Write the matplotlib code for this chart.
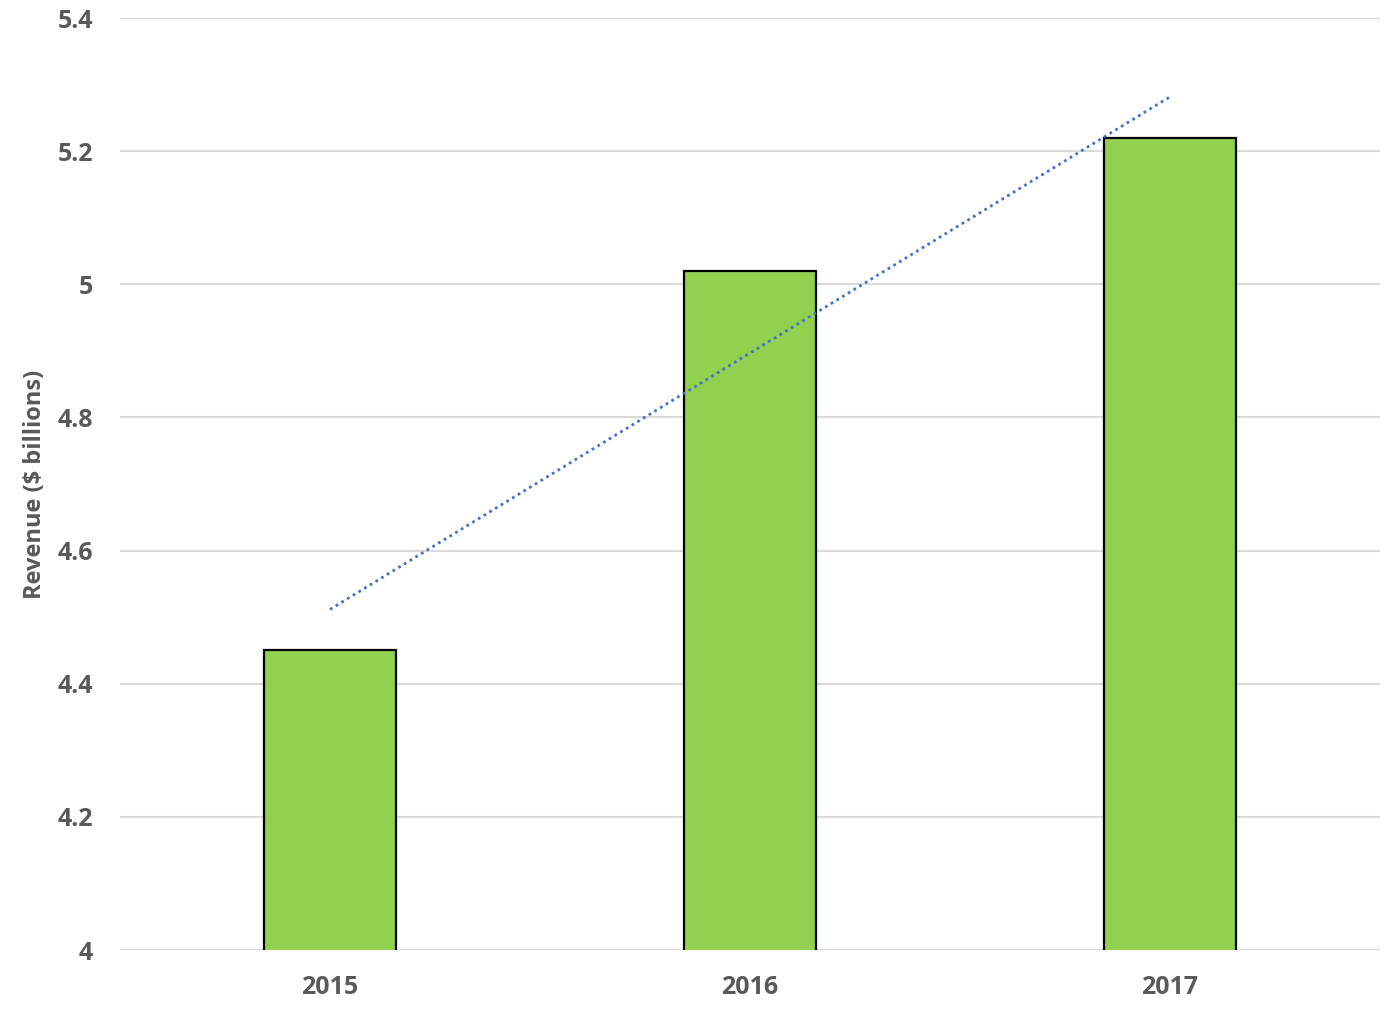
import matplotlib
matplotlib.use("Agg")
import matplotlib.pyplot as plt
import numpy as np

years = ["2015", "2016", "2017"]
revenue = [4.45, 5.02, 5.22]
yticks = [4, 4.2, 4.4, 4.6, 4.8, 5, 5.2, 5.4]
ytick_labels = ["4", "4.2", "4.4", "4.6", "4.8", "5", "5.2", "5.4"]

plt.rcParams['font.family'] = ['Open Sans', 'DejaVu Sans']

W, H = 1396, 1014
fig = plt.figure(figsize=(W / 100, H / 100), dpi=100)
ax = fig.add_axes([120 / W, (H - 950) / H, (1380 - 120) / W, (950 - 18) / H])

x = np.arange(len(years))
ax.bar(x, revenue, width=0.314, color="#92d050", edgecolor="black", linewidth=1.6, zorder=3)

coef = np.polyfit(x, revenue, 1)
trend = np.polyval(coef, x)
ax.plot([x[0], x[-1]], [trend[0], trend[-1]], linestyle=(0, (1, 1.4)), color="#4472c4",
        linewidth=2, zorder=4)

ax.set_xlim(-0.5, len(years) - 0.5)
ax.set_ylim(4, 5.4)
ax.set_yticks(yticks)
ax.set_yticklabels(ytick_labels)
ax.set_xticks(x)
ax.set_xticklabels(years)
ax.grid(axis="y", color="#d9d9d9", linewidth=1.5, zorder=0)
ax.set_axisbelow(True)
for s in ax.spines.values():
    s.set_visible(False)
ax.tick_params(axis="both", length=0, labelsize=18, labelcolor="#595959")
ax.tick_params(axis="y", pad=19.5)
ax.tick_params(axis="x", pad=18)
for lbl in ax.get_xticklabels() + ax.get_yticklabels():
    lbl.set_fontweight("bold")

fig.text(35 / W, 1 - 484 / H, "Revenue ($ billions)", rotation=90, ha="center", va="center",
         fontsize=17, fontweight="bold", color="#595959")

fig.savefig("out.png", dpi=100)
